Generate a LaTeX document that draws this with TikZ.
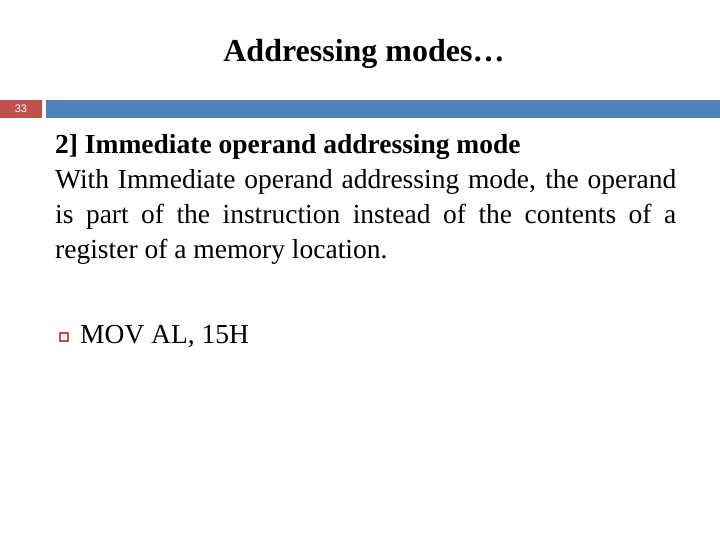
\documentclass[tikz,border=0pt]{standalone}
\usepackage{fontspec}
\setmainfont{Liberation Serif}
\newfontfamily\arialf{Liberation Sans}
\definecolor{barred}{RGB}{192,80,77}
\definecolor{barblue}{RGB}{79,129,189}
\begin{document}
\begin{tikzpicture}[x=1pt,y=-1pt]
\useasboundingbox (0,0) rectangle (720,540);
\fill[barred] (0,100) rectangle (42,118);
\fill[barblue] (46,100) rectangle (720,118);
\node[text=white,font=\arialf\fontsize{11}{12}\selectfont] (num) at (21,109) {33};
\node[font=\bfseries\fontsize{32}{36}\selectfont] (title) at (364,54) {Addressing modes…};
\node[anchor=north west,inner sep=0,text width=621pt,align=justify,font=\fontsize{27.5}{35}\selectfont] (body) at (55,134)
{\textbf{2] Immediate operand addressing mode}\\
With Immediate operand addressing mode, the operand\linebreak
is part of the instruction instead of the contents of a\linebreak
register of a memory location.};
\draw[barred,line width=1.2pt] (60,333) rectangle (68,341);
\node[anchor=west,inner sep=0,font=\fontsize{27.5}{30}\selectfont] (mov) at (80,337) {MOV AL, 15H};
\end{tikzpicture}
\end{document}
